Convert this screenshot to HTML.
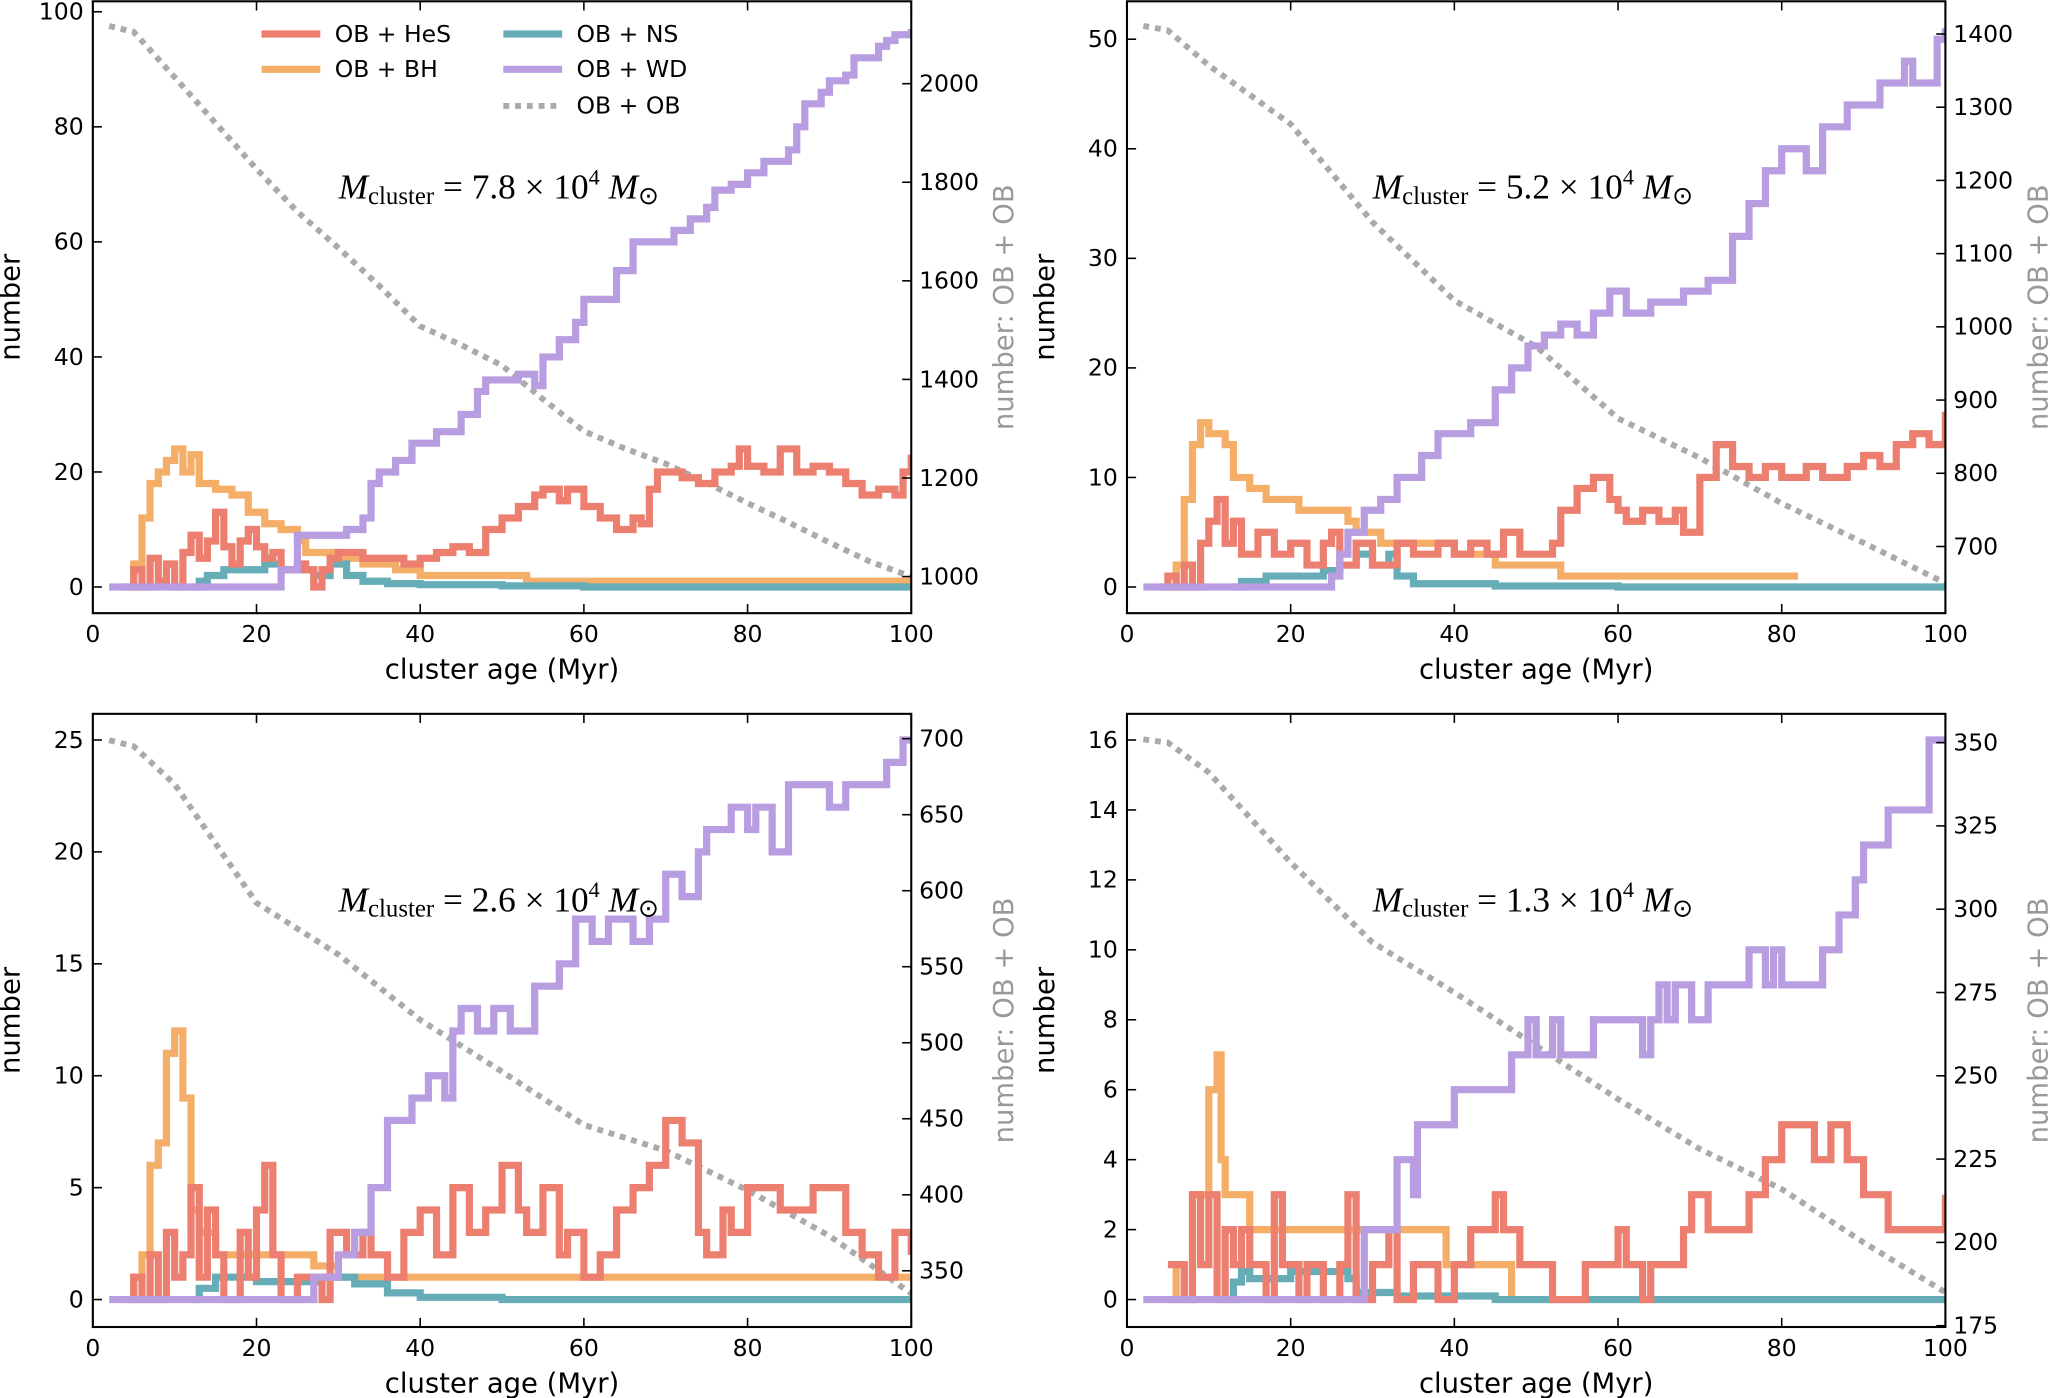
<!DOCTYPE html>
<html><head><meta charset="utf-8"><style>
html,body{margin:0;padding:0;background:#fff;}
svg{display:block;}
text{font-family:"DejaVu Sans","Liberation Sans",sans-serif;}
</style></head><body>
<svg id="fig" width="2050" height="1398" viewBox="0 0 1568 1069.3" xmlns="http://www.w3.org/2000/svg"></svg>
<script>
// ---- data (step breakpoints [time, value]) ----
const xTicks=[0,20,40,60,80,100];
const p1_hes=[[4,0],[5,3],[6,0],[7,5],[8,1],[9,4],[10,0],[11,6],[12,9],[13,5],[14,8],[15,13],[16,7],[17,4],[18,8],[19,10],[20,7],[21,5],[22,6],[23,3],[25,4],[26,3],[27,0],[28,3],[29,5],[30,6],[33,5],[36,5],[38,4],[40,5],[42,6],[44,7],[46,6],[48,10],[50,12],[52,14],[54,16],[55,17],[57,15],[58,17],[60,14],[62,12],[64,10],[66,12],[67,11],[68,17],[69,20],[72,19],[74,18],[76,20],[78,21],[79,24],[80,21],[82,20],[84,24],[86,20],[88,21],[90,20],[92,18],[94,16],[96,17],[98,16],[99,20],[100,23]];
const p1_bh=[[4,0],[5,4],[6,12],[7,18],[8,20],[9,22],[10,24],[11,20],[12,23],[13,18],[15,17],[17,16],[19,13],[21,11],[23,10],[25,8],[26,6],[30,5],[33,4],[37,3],[40,2],[53,1],[100,1]];
const p1_ns=[[12,0],[13,1],[14,2],[16,3],[19,3],[21,4],[23,3],[25,3],[27,2],[29,4],[31,2],[33,1],[36,0.6],[40,0.4],[50,0.2],[60,0],[100,0]];
const p1_wd=[[2,0],[22,0],[23,3],[25,9],[28,9],[31,10],[33,12],[34,18],[35,20],[37,22],[39,25],[42,27],[45,30],[47,34],[48,36],[52,37],[54,35],[55,40],[57,43],[59,46],[60,50],[62,50],[64,55],[66,60],[68,60],[70,60],[71,62],[73,64],[75,66],[76,69],[78,70],[80,72],[82,74],[85,76],[86,80],[87,84],[89,86],[90,88],[92,89],[93,92],[96,94],[97,95],[98,96],[100,97]];
const p1_ob=[[2,2117],[5,2105],[10,2013],[15,1920],[20,1827],[25,1740],[30,1667],[35,1590],[40,1508],[45,1470],[50,1428],[55,1360],[60,1295],[65,1260],[70,1229],[75,1190],[80,1149],[85,1110],[90,1069],[95,1030],[100,1000]];

const p2_hes=[[4,0],[5,1],[6,0],[7,2],[8,0],[9,4],[10,6],[11,8],[12,4],[13,6],[14,3],[16,5],[18,3],[20,4],[22,2],[24,4],[25,5],[26,2],[28,4],[30,2],[33,4],[35,3],[38,4],[40,3],[42,4],[44,3],[46,5],[48,3],[52,4],[53,7],[55,9],[57,10],[59,8],[60,7],[61,6],[63,7],[65,6],[67,7],[68,5],[70,10],[72,13],[74,11],[76,10],[78,11],[80,10],[83,11],[85,10],[88,11],[90,12],[92,11],[94,13],[96,14],[98,13],[100,16]];
const p2_bh=[[5,0],[6,2],[7,8],[8,13],[9,15],[10,14],[12,13],[13,10],[15,9],[17,8],[19,8],[21,7],[27,6],[28,5],[31,4],[38,4],[40,3],[45,2],[53,1],[82,1]];
const p2_ns=[[13,0],[14,0.5],[17,1],[20,1],[24,1.5],[26,2],[28,3],[30,2],[32,3],[33,1],[35,0.3],[45,0.1],[60,0],[100,0]];
const p2_wd=[[2,0],[24,0],[25,1],[26,3],[27,5],[29,7],[31,8],[33,10],[36,12],[38,14],[42,15],[45,18],[47,20],[49,22],[51,23],[53,24],[55,23],[57,25],[59,27],[61,25],[64,26],[68,27],[71,28],[74,32],[76,35],[78,38],[80,40],[83,38],[85,42],[88,44],[92,46],[95,48],[96,46],[99,50],[100,51]];
const p2_ob=[[2,1411],[5,1405],[10,1357],[20,1277],[30,1143],[40,1036],[50,973],[60,875],[70,821],[80,759],[90,705],[100,650]];

const p3_hes=[[4,0],[5,1],[6,0],[7,2],[8,0],[9,3],[10,1],[11,2],[12,5],[13,1],[14,4],[15,2],[16,0],[18,3],[19,1],[20,4],[21,6],[22,2],[23,0],[25,1],[28,0],[29,3],[31,2],[33,3],[34,2],[36,1],[38,3],[40,4],[42,2],[44,5],[46,3],[48,4],[50,6],[52,4],[53,3],[55,5],[57,2],[58,3],[60,1],[62,2],[64,4],[66,5],[68,6],[70,8],[72,7],[74,3],[75,2],[77,4],[78,3],[80,5],[84,4],[88,5],[92,3],[94,2],[96,1],[98,3],[100,2]];
const p3_bh=[[4,0],[5,1],[6,2],[7,6],[8,7],[9,11],[10,12],[11,9],[12,4],[13,3],[15,2],[25,2],[27,1.5],[30,1],[100,1]];
const p3_ns=[[12,0],[13,0.5],[15,1],[20,0.8],[28,1],[32,0.7],[36,0.3],[40,0.1],[50,0],[100,0]];
const p3_wd=[[2,0],[26,0],[27,1],[30,2],[32,3],[34,5],[36,8],[39,9],[41,10],[43,9],[44,12],[45,13],[47,12],[49,13],[51,12],[54,14],[57,15],[59,17],[61,16],[63,17],[66,16],[68,17],[70,19],[72,18],[74,20],[75,21],[78,22],[80,21],[81,22],[83,20],[85,23],[90,22],[92,23],[97,24],[99,25],[100,25]];
const p3_ob=[[2,699],[5,695],[10,670],[20,592],[30,558],[40,515],[50,481],[60,446],[70,429],[80,403],[90,373],[100,335]];

const p4_hes=[[5,1],[7,0],[8,3],[9,1],[10,3],[11,0],[12,2],[13,1],[14,2],[15,1],[17,0],[18,3],[19,1],[21,0],[22,1],[24,0],[26,1],[27,3],[28,0],[30,1],[32,2],[33,0],[35,1],[38,0],[40,1],[42,2],[45,3],[46,2],[48,1],[52,0],[56,1],[60,2],[61,1],[63,0],[64,1],[68,2],[69,3],[71,2],[76,3],[78,4],[80,5],[84,4],[86,5],[88,4],[90,3],[93,2],[100,3]];
const p4_bh=[[5,0],[6,1],[7,0],[8,3],[9,3],[10,6],[11,7],[11.5,4],[12,3],[15,2],[39,1],[47,0]];
const p4_ns=[[12,0],[13,0.5],[14,0.8],[15,0.6],[20,0.8],[27,0.6],[28,0.2],[33,0.1],[45,0],[100,0]];
const p4_wd=[[2,0],[28,0],[29,2],[33,4],[35,3],[35.5,5],[40,6],[47,7],[49,8],[50,7],[52,8],[53,7],[57,8],[63,7],[64,8],[65,9],[66,8],[67,9],[69,8],[71,9],[76,10],[78,9],[79,10],[80,9],[85,10],[87,11],[89,12],[90,13],[93,14],[98,16],[100,16]];
const p4_ob=[[2,351],[5,350],[10,341],[20,314],[30,290],[40,275],[50,259],[60,243],[70,228],[80,216],[90,200],[100,185]];

const leftTicks1=[0,20,40,60,80,100], rightTicks1=[1000,1200,1400,1600,1800,2000];
const leftTicks2=[0,10,20,30,40,50], rightTicks2=[700,800,900,1000,1100,1200,1300,1400];
const leftTicks3=[0,5,10,15,20,25], rightTicks3=[350,400,450,500,550,600,650,700];
const leftTicks4=[0,2,4,6,8,10,12,14,16], rightTicks4=[175,200,225,250,275,300,325,350];
const masses=["7.8","5.2","2.6","1.3"];

const COL={hes:"#ec7f6f",bh:"#f4ae67",ns:"#66adb7",wd:"#b89de0",ob:"#aaaaaa"};
const NS="http://www.w3.org/2000/svg";
const svg=document.getElementById('fig');
function el(t,a,p){const e=document.createElementNS(NS,t);for(const k in a)e.setAttribute(k,a[k]);(p||svg).appendChild(e);return e;}

const panels=[
 {x0:71,x1:697,top:1,bot:469,ly0:449,ly1:9,lv1:100,rv0:1000,ry0:441,rv1:2000,ry1:64,lt:leftTicks1,rt:rightTicks1,s:[p1_hes,p1_bh,p1_ns,p1_wd,p1_ob],m:masses[0],legend:true},
 {x0:862,x1:1488,top:1,bot:469,ly0:449,ly1:30,lv1:50,rv0:700,ry0:418,rv1:1400,ry1:26,lt:leftTicks2,rt:rightTicks2,s:[p2_hes,p2_bh,p2_ns,p2_wd,p2_ob],m:masses[1]},
 {x0:71,x1:697,top:546,bot:1015,ly0:994,ly1:566,lv1:25,rv0:350,ry0:972,rv1:700,ry1:565,lt:leftTicks3,rt:rightTicks3,s:[p3_hes,p3_bh,p3_ns,p3_wd,p3_ob],m:masses[2]},
 {x0:862,x1:1488,top:546,bot:1015,ly0:994,ly1:566,lv1:16,rv0:175,ry0:1014,rv1:350,ry1:568,lt:leftTicks4,rt:rightTicks4,s:[p4_hes,p4_bh,p4_ns,p4_wd,p4_ob],m:masses[3]}
];
const names=['hes','bh','ns','wd'];

panels.forEach((P,i)=>{
 const g=el('g',{});
 
 
 const X=v=>P.x0+(P.x1-P.x0)*v/100;
 const YL=v=>P.ly0+(P.ly1-P.ly0)*v/P.lv1;
 const YR=v=>P.ry0+(P.ry1-P.ry0)*(v-P.rv0)/(P.rv1-P.rv0);
 const cp='cp'+i;
 const cl=el('clipPath',{id:cp},g);el('rect',{x:P.x0,y:P.top,width:P.x1-P.x0,height:P.bot-P.top},cl);
 let d=P.s[4].map((p,k)=>(k?'L':'M')+X(p[0]).toFixed(1)+' '+YR(p[1]).toFixed(1)).join(' ');
 const ob=el('path',{d:d,fill:'none',stroke:COL.ob,'stroke-width':4.5,'stroke-dasharray':'4.5 4.5','clip-path':`url(#${cp})`},g);
 
 
 [1,2,0,3].forEach(j=>{
  const arr=P.s[j];let dd='';
  arr.forEach((p,k)=>{const x=X(p[0]).toFixed(1),y=YL(p[1]).toFixed(1);
   if(k===0)dd+='M'+x+' '+y;else dd+=' H'+x+' V'+y;});
  const pe=el('path',{d:dd,fill:'none',stroke:COL[names[j]],'stroke-width':5.5,'stroke-linejoin':'miter','clip-path':`url(#${cp})`},g);
  
  
 });
 el('rect',{x:P.x0,y:P.top,width:P.x1-P.x0,height:P.bot-P.top,fill:'none',stroke:'#000','stroke-width':1.6},g);
 xTicks.forEach(v=>{const x=X(v);
  el('line',{x1:x,x2:x,y1:P.bot,y2:P.bot-7,stroke:'#000','stroke-width':1.2},g);
  el('line',{x1:x,x2:x,y1:P.top,y2:P.top+7,stroke:'#000','stroke-width':1.2},g);
  const t=el('text',{x:x,y:P.bot+22,'font-size':18,'text-anchor':'middle'},g);t.textContent=v;
  
  });
 P.lt.forEach(v=>{const y=YL(v);
  el('line',{x1:P.x0,x2:P.x0+7,y1:y,y2:y,stroke:'#000','stroke-width':1.2},g);
  const t=el('text',{x:P.x0-7,y:y+6,'font-size':18,'text-anchor':'end'},g);t.textContent=v;
  
  });
 P.rt.forEach(v=>{const y=YR(v);
  el('line',{x1:P.x1,x2:P.x1-7,y1:y,y2:y,stroke:'#000','stroke-width':1.2},g);
  const t=el('text',{x:P.x1+6,y:y+6,'font-size':18,'text-anchor':'start'},g);t.textContent=v;
  
  });
 const xl=el('text',{x:(P.x0+P.x1)/2,y:P.bot+50,'font-size':21,'text-anchor':'middle'},g);xl.textContent='cluster age (Myr)';
 
 
 const cy=(P.top+P.bot)/2;
 const yl=el('text',{x:0,y:0,'font-size':21,'text-anchor':'middle',transform:`translate(${P.x0-56},${cy}) rotate(-90)`},g);yl.textContent='number';
 
 
 const yr=el('text',{x:0,y:0,'font-size':21,'text-anchor':'middle',fill:'#999',transform:`translate(${P.x1+78},${cy}) rotate(-90)`},g);yr.textContent='number: OB + OB';
 
 
 const mt=el('text',{x:P.x0+188,y:(i<2?152:697),'font-size':27,style:'font-family:"Liberation Serif",serif'},g);
 mt.innerHTML=`<tspan font-style="italic">M</tspan><tspan font-size="19" dy="4">cluster</tspan><tspan dy="-4"> = ${P.m} × 10</tspan><tspan font-size="17" dy="-11">4</tspan><tspan dy="11" font-style="italic"> M</tspan><tspan font-size="19" dy="4">⊙</tspan>`;
 
 
 if(P.legend){
  const lg=el('g',{},g);
  
  
  const items=[['OB + HeS','hes',200,26],['OB + BH','bh',200,53],['OB + NS','ns',385,26],['OB + WD','wd',385,53],['OB + OB','ob',385,81]];
  items.forEach(it=>{
   const a={x1:it[2],x2:it[2]+45,y1:it[3],y2:it[3],stroke:COL[it[1]],'stroke-width':it[1]==='ob'?4.5:5.5};
   if(it[1]==='ob')a['stroke-dasharray']='4.5 4.5';
   el('line',a,lg);
   const t=el('text',{x:it[2]+56,y:it[3]+6,'font-size':18},lg);t.textContent=it[0];
   
   
  });
 }
});
</script>
</body></html>
